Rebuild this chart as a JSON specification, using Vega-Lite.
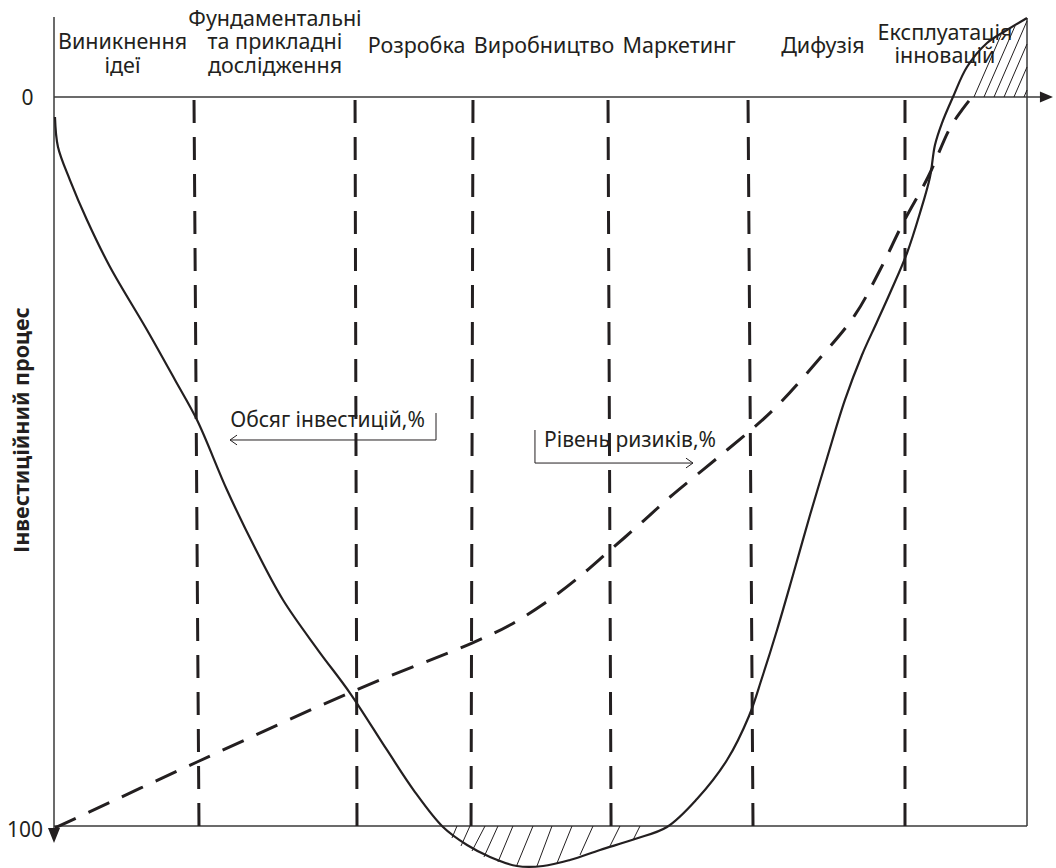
{
  "$schema": "https://vega.github.io/schema/vega-lite/v6.json",
  "width": 1056,
  "height": 868,
  "autosize": {"type": "none"},
  "padding": 0,
  "background": "white",
  "config": {"view": {"stroke": null}},
  "datasets": {
    "invest": [
      {"x": 0.10, "y": 2.74}, {"x": 0.41, "y": 6.86},
      {"x": 1.64, "y": 11.39}, {"x": 3.39, "y": 16.87}, {"x": 5.76, "y": 23.32}, {"x": 9.56, "y": 31.96},
      {"x": 12.44, "y": 38.82}, {"x": 14.70, "y": 44.31}, {"x": 17.78, "y": 53.91}, {"x": 20.66, "y": 61.87},
      {"x": 23.54, "y": 69.00}, {"x": 27.13, "y": 75.86}, {"x": 30.42, "y": 81.76}, {"x": 34.22, "y": 89.57},
      {"x": 37.10, "y": 95.34}, {"x": 39.98, "y": 100.14}, {"x": 42.45, "y": 102.61}, {"x": 44.81, "y": 104.25},
      {"x": 47.58, "y": 105.49}, {"x": 50.26, "y": 105.49}, {"x": 53.03, "y": 104.66}, {"x": 56.12, "y": 103.29},
      {"x": 59.71, "y": 101.78}, {"x": 63.00, "y": 100.14}, {"x": 66.08, "y": 96.30}, {"x": 69.17, "y": 90.95},
      {"x": 71.43, "y": 84.91}, {"x": 72.76, "y": 79.70}, {"x": 74.31, "y": 73.11}, {"x": 75.95, "y": 65.57},
      {"x": 77.70, "y": 57.34}, {"x": 79.45, "y": 49.52}, {"x": 81.29, "y": 41.56}, {"x": 83.04, "y": 35.39},
      {"x": 84.58, "y": 30.86}, {"x": 85.92, "y": 26.89}, {"x": 87.67, "y": 21.40}, {"x": 89.00, "y": 15.91},
      {"x": 90.03, "y": 10.97}, {"x": 90.54, "y": 6.58}, {"x": 91.26, "y": 3.57}, {"x": 92.39, "y": 0.0},
      {"x": 93.83, "y": -4.12}, {"x": 95.89, "y": -7.41}, {"x": 97.94, "y": -9.19}, {"x": 100.0, "y": -10.84}
    ],
    "risk": [
      {"x": 0.10, "y": 100.27}, {"x": 14.70, "y": 91.22}, {"x": 31.04, "y": 81.34}, {"x": 42.96, "y": 74.90},
      {"x": 46.87, "y": 72.43}, {"x": 50.46, "y": 69.41}, {"x": 53.85, "y": 65.98}, {"x": 56.94, "y": 62.41},
      {"x": 60.23, "y": 58.57}, {"x": 63.31, "y": 54.87}, {"x": 69.17, "y": 48.42}, {"x": 73.90, "y": 42.94},
      {"x": 78.73, "y": 35.80}, {"x": 82.32, "y": 29.90}, {"x": 84.89, "y": 23.73}, {"x": 87.26, "y": 17.28},
      {"x": 89.83, "y": 10.97}, {"x": 92.09, "y": 4.25}, {"x": 93.32, "y": 1.78}, {"x": 94.35, "y": 0.0}
    ],
    "stages": [
      {"x": 14.39, "y": 0.41, "x2": 14.90, "y2": 100},
      {"x": 30.94, "y": 0.41, "x2": 31.14, "y2": 100},
      {"x": 43.06, "y": 0.41, "x2": 42.86, "y2": 100},
      {"x": 56.94, "y": 0.41, "x2": 57.25, "y2": 100},
      {"x": 71.33, "y": 0.41, "x2": 71.84, "y2": 100},
      {"x": 87.46, "y": 0.41, "x2": 87.46, "y2": 100}
    ],
    "frame": [
      {"x": 0, "y": -10.97, "x2": 0, "y2": 100.3},
      {"x": 0, "y": 0, "x2": 101.34, "y2": 0},
      {"x": 0, "y": 100, "x2": 100, "y2": 100},
      {"x": 100, "y": -10.84, "x2": 100, "y2": 100}
    ],
    "brackets": [
      {"x": 39.26, "y": 43.35, "x2": 39.26, "y2": 47.05},
      {"x": 39.26, "y": 47.05, "x2": 18.09, "y2": 47.05},
      {"x": 49.43, "y": 45.68, "x2": 49.43, "y2": 50.21},
      {"x": 49.43, "y": 50.21, "x2": 65.67, "y2": 50.21}
    ],
    "hatch": [
      {"x": 41.42, "y": 100, "x2": 40.90, "y2": 101.65},
      {"x": 42.75, "y": 100, "x2": 41.83, "y2": 102.74},
      {"x": 44.30, "y": 100, "x2": 42.96, "y2": 103.43},
      {"x": 45.63, "y": 100, "x2": 44.19, "y2": 104.25},
      {"x": 47.17, "y": 100, "x2": 45.63, "y2": 104.94},
      {"x": 49.23, "y": 100, "x2": 47.58, "y2": 105.35},
      {"x": 51.18, "y": 100, "x2": 49.64, "y2": 105.49},
      {"x": 53.24, "y": 100, "x2": 51.70, "y2": 105.08},
      {"x": 55.40, "y": 100, "x2": 54.06, "y2": 103.98},
      {"x": 58.17, "y": 100, "x2": 57.04, "y2": 103.02},
      {"x": 60.23, "y": 100, "x2": 59.51, "y2": 101.92},
      {"x": 94.55, "y": 0, "x2": 97.33, "y2": -8.50},
      {"x": 95.58, "y": 0, "x2": 98.77, "y2": -9.74},
      {"x": 96.61, "y": 0, "x2": 100, "y2": -10.43},
      {"x": 97.64, "y": 0, "x2": 100, "y2": -7.27},
      {"x": 98.66, "y": 0, "x2": 100, "y2": -4.12},
      {"x": 99.69, "y": 0, "x2": 100, "y2": -0.96}
    ],
    "stageLabels": [
      {"x": 7.04, "y": -6.58, "t": "Виникнення\nідеї"},
      {"x": 22.71, "y": -9.74, "t": "Фундаментальні\nта прикладні\nдослідження"},
      {"x": 37.26, "y": -6.04, "t": "Розробка"},
      {"x": 50.36, "y": -6.04, "t": "Виробництво"},
      {"x": 64.24, "y": -6.04, "t": "Маркетинг"},
      {"x": 79.03, "y": -6.04, "t": "Дифузія"},
      {"x": 91.57, "y": -7.82, "t": "Експлуатація\nінновацій"}
    ],
    "notes": [
      {"x": 28.11, "y": 45.27, "t": "Обсяг інвестицій,%"},
      {"x": 59.20, "y": 48.01, "t": "Рівень ризиків,%"},
      {"x": -2.72, "y": 1.10, "t": "0"},
      {"x": -2.98, "y": 101.51, "t": "100"}
    ],
    "chevL": [{"x": 18.09, "y": 47.05}],
    "chevR": [{"x": 65.67, "y": 50.21}],
    "arrowDown": [{"x": 0, "y": 101.30}],
    "arrowRight": [{"x": 102.0, "y": 0}],
    "ytitle": [{"x": -3.19, "y": 45.68, "t": "Інвестиційний процес"}]
  },
  "layer": [
    {
      "data": {"name": "frame"},
      "mark": {"type": "rule", "color": "#3a3a3a", "strokeWidth": 1.5},
      "encoding": {
        "x": {"field": "x", "type": "quantitative", "scale": {"domain": [-5.55, 102.98], "nice": false, "zero": false}, "axis": null},
        "y": {"field": "y", "type": "quantitative", "scale": {"domain": [-13.306, 105.761], "nice": false, "zero": false, "reverse": true}, "axis": null},
        "x2": {"field": "x2"},
        "y2": {"field": "y2"}
      }
    },
    {
      "data": {"name": "hatch"},
      "mark": {"type": "rule", "color": "#231f20", "strokeWidth": 1},
      "encoding": {
        "x": {"field": "x", "type": "quantitative"},
        "y": {"field": "y", "type": "quantitative"},
        "x2": {"field": "x2"},
        "y2": {"field": "y2"}
      }
    },
    {
      "data": {"name": "stages"},
      "mark": {"type": "rule", "color": "#231f20", "strokeWidth": 3, "strokeDash": [23, 14]},
      "encoding": {
        "x": {"field": "x", "type": "quantitative"},
        "y": {"field": "y", "type": "quantitative"},
        "x2": {"field": "x2"},
        "y2": {"field": "y2"}
      }
    },
    {
      "data": {"name": "risk"},
      "mark": {"type": "line", "color": "#231f20", "strokeWidth": 3, "strokeDash": [23, 14], "interpolate": "catmull-rom"},
      "encoding": {
        "x": {"field": "x", "type": "quantitative"},
        "y": {"field": "y", "type": "quantitative"},
        "order": {"field": "x"}
      }
    },
    {
      "data": {"name": "invest"},
      "mark": {"type": "line", "color": "#231f20", "strokeWidth": 2.2, "interpolate": "catmull-rom"},
      "encoding": {
        "x": {"field": "x", "type": "quantitative"},
        "y": {"field": "y", "type": "quantitative"},
        "order": {"field": "x"}
      }
    },
    {
      "data": {"name": "brackets"},
      "mark": {"type": "rule", "color": "#231f20", "strokeWidth": 1},
      "encoding": {
        "x": {"field": "x", "type": "quantitative"},
        "y": {"field": "y", "type": "quantitative"},
        "x2": {"field": "x2"},
        "y2": {"field": "y2"}
      }
    },
    {
      "data": {"name": "chevL"},
      "mark": {"type": "point", "shape": "M1,-0.7L0,0L1,0.7", "size": 196, "filled": false, "stroke": "#231f20", "strokeWidth": 1, "opacity": 1},
      "encoding": {
        "x": {"field": "x", "type": "quantitative"},
        "y": {"field": "y", "type": "quantitative"}
      }
    },
    {
      "data": {"name": "chevR"},
      "mark": {"type": "point", "shape": "M-1,-0.7L0,0L-1,0.7", "size": 196, "filled": false, "stroke": "#231f20", "strokeWidth": 1, "opacity": 1},
      "encoding": {
        "x": {"field": "x", "type": "quantitative"},
        "y": {"field": "y", "type": "quantitative"}
      }
    },
    {
      "data": {"name": "arrowDown"},
      "mark": {"type": "point", "shape": "M-0.8,-1L0.8,-1L0,1Z", "size": 225, "filled": true, "color": "#231f20", "opacity": 1},
      "encoding": {
        "x": {"field": "x", "type": "quantitative"},
        "y": {"field": "y", "type": "quantitative"}
      }
    },
    {
      "data": {"name": "arrowRight"},
      "mark": {"type": "point", "shape": "M-1,-0.85L1,0L-1,0.85Z", "size": 169, "filled": true, "color": "#231f20", "opacity": 1},
      "encoding": {
        "x": {"field": "x", "type": "quantitative"},
        "y": {"field": "y", "type": "quantitative"}
      }
    },
    {
      "data": {"name": "stageLabels"},
      "mark": {"type": "text", "font": "Noto Sans", "fontSize": 21.5, "color": "#231f20", "align": "center", "baseline": "alphabetic", "lineBreak": "\n", "lineHeight": 23.5},
      "encoding": {
        "x": {"field": "x", "type": "quantitative"},
        "y": {"field": "y", "type": "quantitative"},
        "text": {"field": "t"}
      }
    },
    {
      "data": {"name": "notes"},
      "mark": {"type": "text", "font": "Noto Sans", "fontSize": 21, "color": "#231f20", "align": "center", "baseline": "alphabetic"},
      "encoding": {
        "x": {"field": "x", "type": "quantitative"},
        "y": {"field": "y", "type": "quantitative"},
        "text": {"field": "t"}
      }
    },
    {
      "data": {"name": "ytitle"},
      "mark": {"type": "text", "font": "Noto Sans", "fontSize": 21.5, "fontWeight": "bold", "color": "#231f20", "align": "center", "baseline": "middle", "angle": 270},
      "encoding": {
        "x": {"field": "x", "type": "quantitative"},
        "y": {"field": "y", "type": "quantitative"},
        "text": {"field": "t"}
      }
    }
  ]
}
